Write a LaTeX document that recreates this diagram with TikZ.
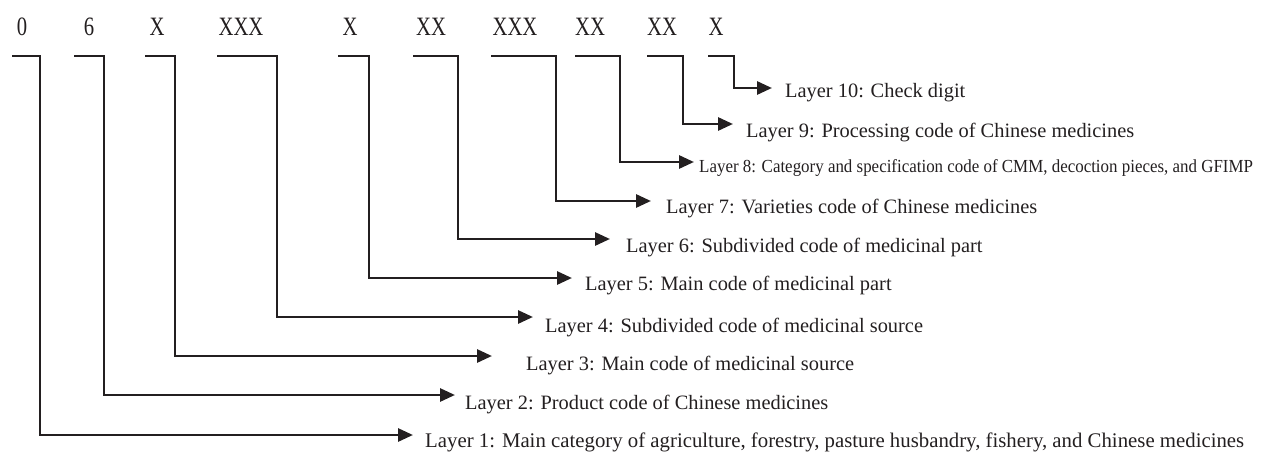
\documentclass[tikz,border=0pt]{standalone}
\usepackage{fontspec}
\setmainfont{Liberation Serif}
\newfontfamily\topfont[FakeStretch=0.78]{Liberation Serif}
\newfontfamily\smallfont[FakeStretch=0.92]{Liberation Serif}
\usetikzlibrary{arrows.meta}
\definecolor{ink}{HTML}{231F20}
\begin{document}
\begin{tikzpicture}[x=1pt,y=-1pt,
  conn/.style={draw=ink,line width=2.8pt,-{Triangle[length=15pt,width=13pt]}},
  digit/.style={inner sep=0pt,anchor=base,text=ink,font=\topfont\fontsize{26.5}{30}\selectfont},
  lab/.style={inner sep=0pt,anchor=base west,text=ink,font=\fontsize{20.4}{24}\selectfont},
  labsmall/.style={inner sep=0pt,anchor=base west,text=ink,font=\smallfont\fontsize{18.4}{22}\selectfont}]
\useasboundingbox (0,0) rectangle (1270,452);
% top code digits
\node[digit] (d1) at (22,36) {0};
\node[digit] (d2) at (89,36) {6};
\node[digit] (d3) at (157,36) {X};
\node[digit] (d4) at (241,36) {XXX};
\node[digit] (d5) at (350,36) {X};
\node[digit] (d6) at (431,36) {XX};
\node[digit] (d7) at (515,36) {XXX};
\node[digit] (d8) at (590,36) {XX};
\node[digit] (d9) at (662,36) {XX};
\node[digit] (d10) at (716,36) {X};
% bracket starts and corners
\coordinate (s1) at (12,56);  \coordinate (v1) at (40,56);
\coordinate (s2) at (74,56);  \coordinate (v2) at (104,56);
\coordinate (s3) at (145,56); \coordinate (v3) at (175,56);
\coordinate (s4) at (217,56); \coordinate (v4) at (277,56);
\coordinate (s5) at (338,56); \coordinate (v5) at (369,56);
\coordinate (s6) at (413,56); \coordinate (v6) at (458,56);
\coordinate (s7) at (491,56); \coordinate (v7) at (556,56);
\coordinate (s8) at (575,56); \coordinate (v8) at (620,56);
\coordinate (s9) at (647,56); \coordinate (v9) at (683,56);
\coordinate (s10) at (708,56); \coordinate (v10) at (734,56);
% arrow tips
\coordinate (t1) at (413,435);
\coordinate (t2) at (455,395);
\coordinate (t3) at (492,356);
\coordinate (t4) at (533,317);
\coordinate (t5) at (572,278);
\coordinate (t6) at (610,239);
\coordinate (t7) at (651,201);
\coordinate (t8) at (694,162);
\coordinate (t9) at (733,124);
\coordinate (t10) at (772,88);
% layer labels
\node[lab,font=\fontsize{20.8}{24}\selectfont] (l1) at (425,447) {Layer 1: Main category of agriculture, forestry, pasture husbandry, fishery, and Chinese medicines};
\node[lab] (l2) at (465,409) {Layer 2: Product code of Chinese medicines};
\node[lab] (l3) at (526,370) {Layer 3: Main code of medicinal source};
\node[lab] (l4) at (545,332) {Layer 4: Subdivided code of medicinal source};
\node[lab] (l5) at (585,290) {Layer 5: Main code of medicinal part};
\node[lab] (l6) at (626,252) {Layer 6: Subdivided code of medicinal part};
\node[lab] (l7) at (666,213) {Layer 7: Varieties code of Chinese medicines};
\node[labsmall] (l8) at (699,172) {Layer 8: Category and specification code of CMM, decoction pieces, and GFIMP};
\node[lab] (l9) at (746,137) {Layer 9: Processing code of Chinese medicines};
\node[lab] (l10) at (785,97) {Layer 10: Check digit};
% connectors
\foreach \i in {1,...,10}{
  \draw[conn] (s\i) -- (v\i) |- (t\i);
}
\end{tikzpicture}
\end{document}
